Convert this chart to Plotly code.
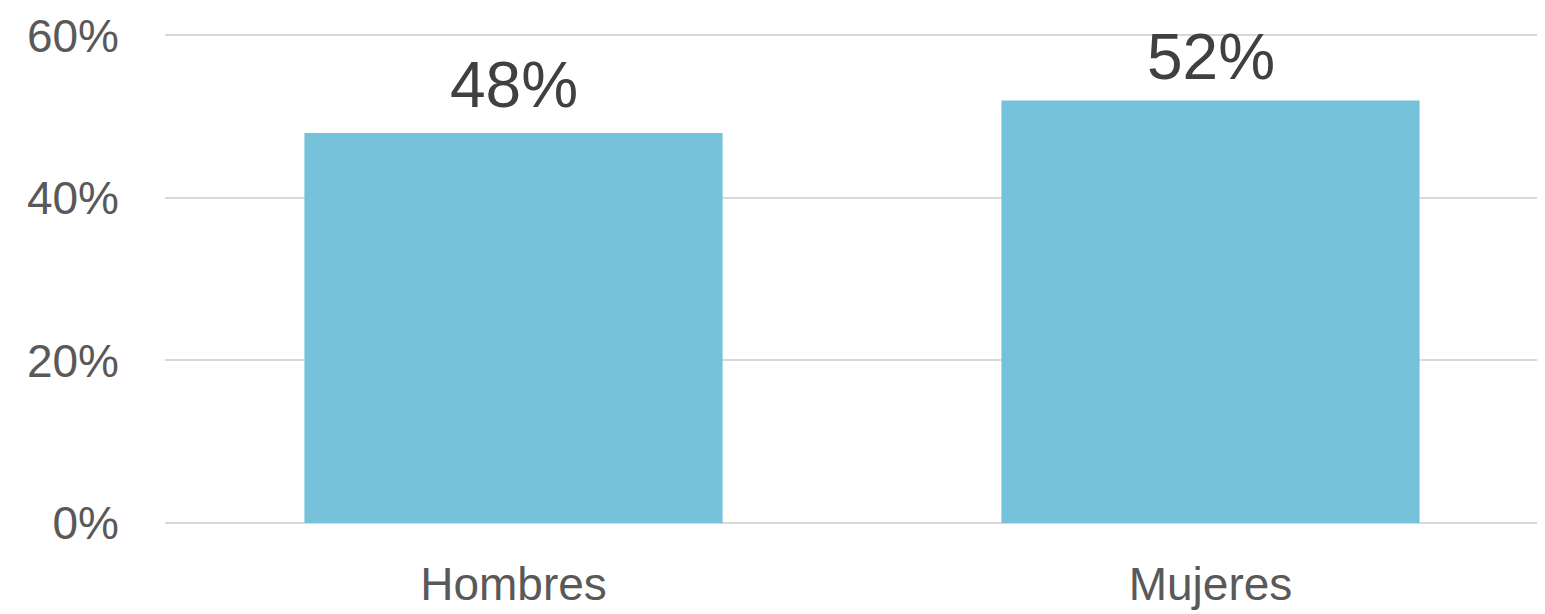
import plotly.graph_objects as go

categories = ["Hombres", "Mujeres"]
values = [48, 52]
labels = ["48%", "52%"]
y_ticks = [0, 20, 40, 60]
y_tick_labels = ["0%", "20%", "40%", "60%"]

FONT = "Liberation Sans, Arial, sans-serif"

HEIGHT = 614
M_T, M_B = 25, 99
Y_MAX = 60.3
px_per_unit = (HEIGHT - M_T - M_B) / Y_MAX

fig = go.Figure(
    go.Bar(
        x=categories,
        y=values,
        marker=dict(color="#77C2DB", line=dict(width=0)),
        width=0.6,
        hoverinfo="x+y",
    )
)

for c, v, t in zip(categories, values, labels):
    # keep label inside the plot top (label glyphs are ~60px above the anchor)
    bar_top_from_plot_top = (Y_MAX - v) * px_per_unit
    shift = max(0, min(10, bar_top_from_plot_top - 62))
    fig.add_annotation(
        x=c, y=v, text=t, showarrow=False,
        xanchor="center", yanchor="bottom", yshift=shift,
        font=dict(size=64, color="#404040", family=FONT),
    )

fig.update_layout(
    width=1545,
    height=HEIGHT,
    margin=dict(l=157, r=0, t=M_T, b=M_B, autoexpand=False),
    paper_bgcolor="white",
    plot_bgcolor="white",
    showlegend=False,
    font=dict(family=FONT, color="#595959", size=46),
)

fig.update_xaxes(
    range=[-0.5, 1.4914],
    showgrid=False,
    showline=False,
    zeroline=False,
    ticks="",
    ticklabelstandoff=30,
    automargin=False,
    tickfont=dict(size=46, color="#595959", family=FONT),
)

fig.update_yaxes(
    range=[0, Y_MAX],
    tickvals=y_ticks,
    ticktext=y_tick_labels,
    showgrid=True,
    gridcolor="#D9D9D9",
    gridwidth=2,
    zeroline=True,
    zerolinecolor="#D9D9D9",
    zerolinewidth=2,
    showline=False,
    ticks="",
    ticklabelstandoff=45,
    automargin=False,
    tickfont=dict(size=46, color="#595959", family=FONT),
    layer="below traces",
)

fig.write_html("out.html")
